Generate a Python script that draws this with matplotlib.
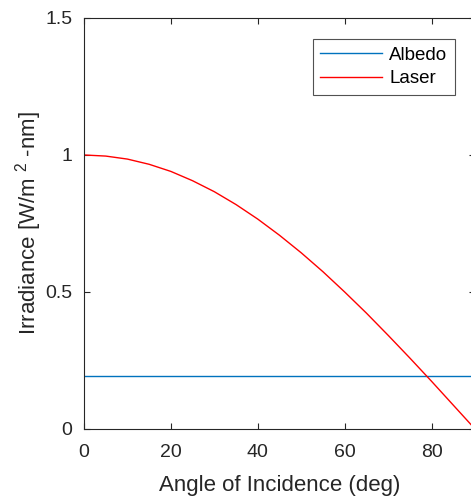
import matplotlib
matplotlib.use("Agg")
import matplotlib.pyplot as plt

# readings
angle_deg = [0, 5, 10, 15, 20, 25, 30, 35, 40, 45, 50, 55, 60, 65, 70, 75, 80, 85, 90]
laser = [1.000, 0.996, 0.985, 0.966, 0.940, 0.906, 0.866, 0.819, 0.766, 0.707,
         0.643, 0.574, 0.500, 0.423, 0.342, 0.259, 0.174, 0.087, 0.000]
albedo = [0.193] * len(angle_deg)

x_ticks = [0, 20, 40, 60, 80]
y_ticks = [0, 0.5, 1, 1.5]
y_tick_labels = ["0", "0.5", "1", "1.5"]

plt.rcParams["font.family"] = ["Liberation Sans", "DejaVu Sans"]
plt.rcParams["mathtext.fontset"] = "custom"
plt.rcParams["mathtext.rm"] = "Liberation Sans"

fig = plt.figure(figsize=(4.71, 4.98), dpi=100)
ax = fig.add_axes([0.1783, 0.1386, 0.8302, 0.8253])

grey = "#262626"
ax.plot(angle_deg, albedo, color="#0072BD", lw=1.0, label="Albedo")
ax.plot(angle_deg, laser, color="red", lw=1.0, label="Laser")

ax.set_xlim(0, 90)
ax.set_ylim(0, 1.5)
ax.set_xticks(x_ticks)
ax.set_yticks(y_ticks)
ax.set_yticklabels(y_tick_labels)
ax.tick_params(direction="in", length=4, width=0.8, colors=grey, labelsize=14,
               top=True, right=True)
ax.tick_params(axis="x", pad=11)
ax.tick_params(axis="y", pad=8.5)
for s in ax.spines.values():
    s.set_color(grey)
    s.set_linewidth(0.8)

ax.set_xlabel("Angle of Incidence (deg)", fontsize=16, color=grey, labelpad=10)
ax.set_ylabel("Irradiance [W/m $^{2}$ -nm]", fontsize=16, color=grey, labelpad=1)

leg = ax.legend(loc="upper right", bbox_to_anchor=(0.949, 0.949), fontsize=13.5,
                frameon=True, fancybox=False, handlelength=3.3, handletextpad=0.4,
                borderpad=0.4, labelspacing=0.35, borderaxespad=0)
leg.get_frame().set_edgecolor(grey)
leg.get_frame().set_linewidth(0.8)

fig.savefig("out.png", dpi=100)
